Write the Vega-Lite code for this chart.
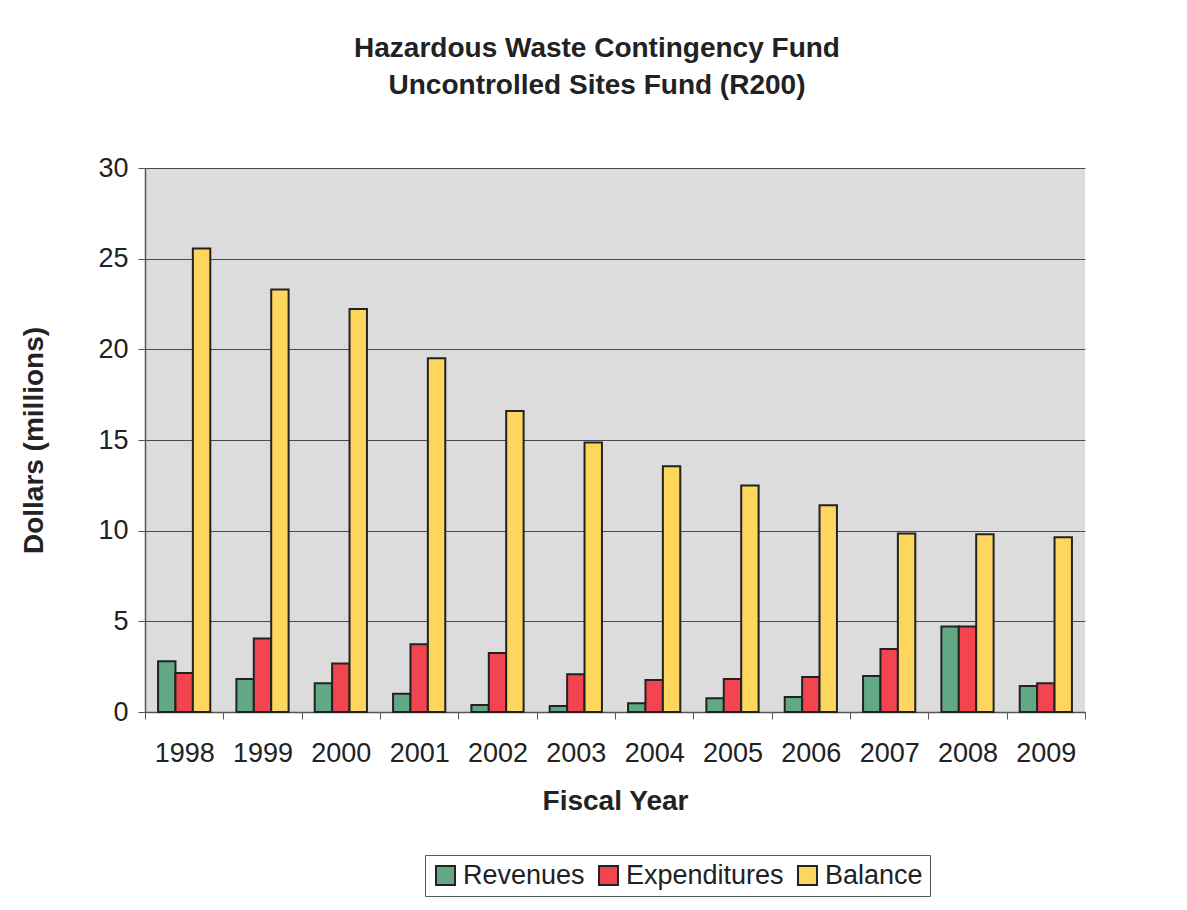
{
  "$schema": "https://vega.github.io/schema/vega-lite/v6.json",
  "autosize": {"type": "none"},
  "width": 940,
  "height": 544,
  "padding": {"left": 145, "top": 168, "right": 102, "bottom": 198},
  "background": "white",
  "title": {
    "text": ["Hazardous Waste Contingency Fund", "Uncontrolled Sites Fund (R200)"],
    "font": "Liberation Sans",
    "fontSize": 28,
    "fontWeight": "bold",
    "color": "#222222",
    "lineHeight": 37,
    "offset": 54,
    "dx": -18,
    "anchor": "middle"
  },
  "data": {
    "values": [
      {"year": "1998", "series": "Revenues", "value": 2.8},
      {"year": "1998", "series": "Expenditures", "value": 2.15},
      {"year": "1998", "series": "Balance", "value": 25.56},
      {"year": "1999", "series": "Revenues", "value": 1.82},
      {"year": "1999", "series": "Expenditures", "value": 4.05},
      {"year": "1999", "series": "Balance", "value": 23.3},
      {"year": "2000", "series": "Revenues", "value": 1.58},
      {"year": "2000", "series": "Expenditures", "value": 2.67},
      {"year": "2000", "series": "Balance", "value": 22.23},
      {"year": "2001", "series": "Revenues", "value": 1.01},
      {"year": "2001", "series": "Expenditures", "value": 3.73},
      {"year": "2001", "series": "Balance", "value": 19.51},
      {"year": "2002", "series": "Revenues", "value": 0.39},
      {"year": "2002", "series": "Expenditures", "value": 3.26},
      {"year": "2002", "series": "Balance", "value": 16.6},
      {"year": "2003", "series": "Revenues", "value": 0.33},
      {"year": "2003", "series": "Expenditures", "value": 2.08},
      {"year": "2003", "series": "Balance", "value": 14.86},
      {"year": "2004", "series": "Revenues", "value": 0.48},
      {"year": "2004", "series": "Expenditures", "value": 1.77},
      {"year": "2004", "series": "Balance", "value": 13.55},
      {"year": "2005", "series": "Revenues", "value": 0.76},
      {"year": "2005", "series": "Expenditures", "value": 1.82},
      {"year": "2005", "series": "Balance", "value": 12.49},
      {"year": "2006", "series": "Revenues", "value": 0.83},
      {"year": "2006", "series": "Expenditures", "value": 1.93},
      {"year": "2006", "series": "Balance", "value": 11.4},
      {"year": "2007", "series": "Revenues", "value": 1.99},
      {"year": "2007", "series": "Expenditures", "value": 3.48},
      {"year": "2007", "series": "Balance", "value": 9.84},
      {"year": "2008", "series": "Revenues", "value": 4.71},
      {"year": "2008", "series": "Expenditures", "value": 4.71},
      {"year": "2008", "series": "Balance", "value": 9.8},
      {"year": "2009", "series": "Revenues", "value": 1.44},
      {"year": "2009", "series": "Expenditures", "value": 1.58},
      {"year": "2009", "series": "Balance", "value": 9.64}
    ]
  },
  "mark": {"type": "bar", "stroke": "#222222", "strokeWidth": 2},
  "encoding": {
    "x": {
      "field": "year",
      "type": "nominal",
      "scale": {"paddingInner": 0, "paddingOuter": 0},
      "axis": {
        "title": "Fiscal Year",
        "titleFont": "Liberation Sans",
        "titleFontSize": 28,
        "titleFontWeight": "bold",
        "titleColor": "#222222",
        "titlePadding": 21,
        "labelAngle": 0,
        "labelFont": "Liberation Sans",
        "labelFontSize": 27,
        "labelColor": "#222222",
        "labelPadding": 21,
        "tickBand": "extent",
        "tickSize": 7,
        "tickColor": "#555555",
        "domainColor": "#555555",
        "domainWidth": 1.5,
        "grid": false
      }
    },
    "xOffset": {
      "field": "series",
      "sort": ["Revenues", "Expenditures", "Balance"],
      "scale": {"paddingInner": 0, "paddingOuter": 0.75}
    },
    "y": {
      "field": "value",
      "type": "quantitative",
      "scale": {"domain": [0, 30], "nice": false},
      "axis": {
        "title": "Dollars (millions)",
        "titleFont": "Liberation Sans",
        "titleFontSize": 28,
        "titleFontWeight": "bold",
        "titleColor": "#222222",
        "titlePadding": 49,
        "values": [0, 5, 10, 15, 20, 25, 30],
        "labelFont": "Liberation Sans",
        "labelFontSize": 27,
        "labelColor": "#222222",
        "labelPadding": 10,
        "tickSize": 7,
        "tickColor": "#555555",
        "domainColor": "#555555",
        "domainWidth": 1.5,
        "grid": true,
        "gridColor": "#4a4a4a",
        "gridWidth": 1.2
      }
    },
    "color": {
      "field": "series",
      "type": "nominal",
      "sort": ["Revenues", "Expenditures", "Balance"],
      "scale": {
        "domain": ["Revenues", "Expenditures", "Balance"],
        "range": ["#62a884", "#f2454f", "#fdd65e"]
      },
      "legend": {
        "title": null,
        "orient": "none",
        "direction": "horizontal",
        "legendX": 280,
        "legendY": 687,
        "symbolType": "square",
        "symbolSize": 360,
        "symbolStrokeColor": "#222222",
        "symbolStrokeWidth": 2,
        "labelFont": "Liberation Sans",
        "labelFontSize": 27,
        "labelLimit": 400,
        "labelColor": "#222222",
        "labelOffset": 4,
        "columnPadding": 10,
        "padding": 7,
        "strokeColor": "#555555",
        "fillColor": "white"
      }
    }
  },
  "config": {
    "view": {"fill": "#dcdcdc", "stroke": null}
  }
}
